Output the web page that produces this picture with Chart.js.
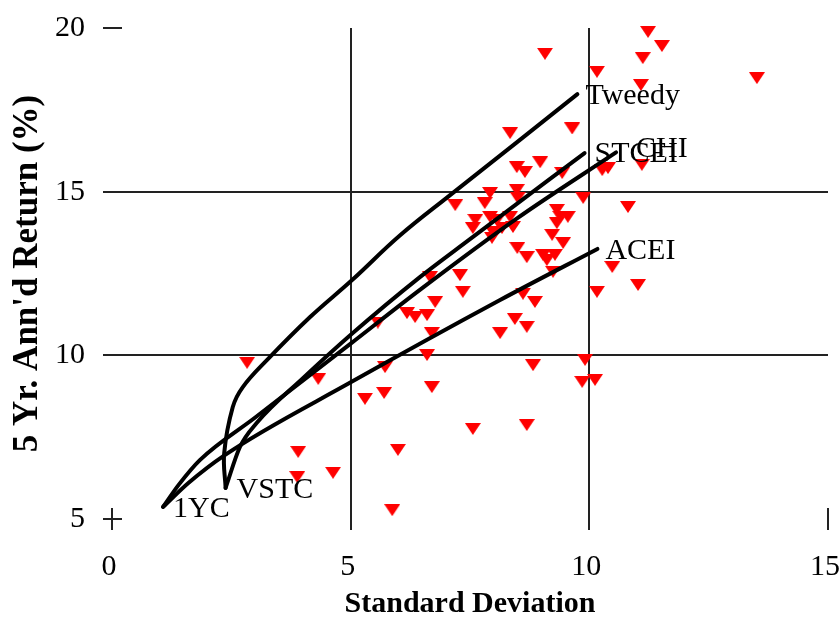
<!DOCTYPE html>
<html>
<head>
<meta charset="utf-8">
<script src="https://cdn.jsdelivr.net/npm/chart.js@4.4.1/dist/chart.umd.min.js"></script>
<style>
html,body{margin:0;padding:0;background:#fff}
canvas{display:block}
</style>
</head>
<body>
<canvas id="riskChart" width="840" height="618"></canvas>
<script>
// ===== data =====
const xTicks=[0,5,10,15];
const yTicks=[5,10,15,20];

// individual funds: std deviation / 5 yr annualised return
const fundSD=[9.07,10.16,11.23,11.52,11.12,11.08,13.51,9.64,8.34,10.27,10.39,11.10,9.87,10.81,10.48,11.02,10.16,
  8.48,8.65,8.97,9.43,7.92,8.48,8.50,7.81,7.19,7.61,7.92,8.07,8.34,8.40,7.56,8.17,9.32,9.39,9.55,9.32,9.22,9.45,
  8.49,8.69,9.03,9.28,9.11,7.96,9.24,7.29,6.66,7.35,6.77,8.61,8.86,6.60,8.44,8.69,8.13,6.70,6.60,8.82,9.91,6.70,
  9.85,10.12,7.56,8.69,2.83,4.32,3.90,3.88,4.63,5.30,5.70,5.72,5.57,5.99,5.87,6.18,6.35,7.98];
const fundRet=[19.21,18.66,19.88,19.45,19.08,18.26,18.47,16.93,16.79,15.66,15.72,15.82,14.81,14.53,12.70,12.15,11.94,
  15.75,15.60,15.90,15.57,14.96,15.05,14.81,14.65,14.59,14.14,14.23,14.14,14.23,13.92,13.89,13.89,14.44,14.23,14.23,14.04,13.68,13.43,
  13.28,13.00,13.07,13.07,12.91,13.59,12.55,12.45,12.39,11.94,11.63,11.88,11.63,11.23,11.11,10.87,10.68,10.68,10.01,9.70,9.86,9.03,
  9.19,9.25,7.75,7.87,9.77,9.28,7.05,6.28,6.41,8.67,8.85,9.64,11.00,7.11,5.27,11.29,11.17,13.77];

// mixing curves
const tweedyX=[2.38,2.35,2.53,2.74,3.25,4.15,5.03,6.03,7.07,8.5,9.75];
const tweedyY=[5.95,7.0,8.42,9.03,9.86,11.17,12.30,13.66,14.88,16.53,17.98];
const stceiX=[2.38,2.68,3.03,4.0,5.02,6.45,7.5,9.9];
const stceiY=[5.95,7.2,7.93,9.3,10.65,12.39,13.55,16.18];
const chiX=[1.07,1.4,1.84,3.0,5.02,6.45,8.5,10.56];
const chiY=[5.37,6.05,6.8,8.1,10.38,12.0,14.2,16.2];
const aceiX=[1.07,1.6,2.37,5.02,8.13,10.17];
const aceiY=[5.37,6.1,6.96,9.19,11.69,13.25];

const curveNames=['Tweedy','STCEI','CHI','ACEI'];
const curveXs=[tweedyX,stceiX,chiX,aceiX];
const curveYs=[tweedyY,stceiY,chiY,aceiY];

// text labels placed next to a curve end: [text, curve index, 'first'|'last', dx, dy]
const curveLabels=[
  ['Tweedy',0,'last',8,10],
  ['STCEI',1,'last',10,9],
  ['CHI',2,'last',20,5],
  ['ACEI',3,'last',8,10],
  ['1YC',2,'first',10,10],
  ['VSTC',0,'first',11,10]
];

const SERIF='"Liberation Serif","Times New Roman",serif';
const INK='#222';

// red downward triangle marker
const tri=document.createElement('canvas');
tri.width=16;tri.height=12;
{
  const t=tri.getContext('2d');
  t.fillStyle='#ff0000';
  t.beginPath();t.moveTo(0,0);t.lineTo(16,0);t.lineTo(8,12);t.closePath();t.fill();
}

const pairs=(xs,ys)=>xs.map((x,i)=>({x,y:ys[i]}));

// tick marks that cross the axis at the edge values (no gridline there)
const crossTicks={
  id:'crossTicks',
  afterDraw(chart){
    const {ctx,chartArea:a,scales:{x,y}}=chart;
    ctx.save();
    ctx.strokeStyle=INK;ctx.lineWidth=2;
    ctx.beginPath();
    [yTicks[0],yTicks[yTicks.length-1]].forEach(v=>{
      const py=Math.round(y.getPixelForValue(v));
      ctx.moveTo(a.left,py);ctx.lineTo(a.left+10,py);
    });
    [xTicks[0],xTicks[xTicks.length-1]].forEach(v=>{
      const px=Math.round(x.getPixelForValue(v));
      ctx.moveTo(px,a.bottom-11);ctx.lineTo(px,a.bottom);
    });
    ctx.stroke();
    ctx.restore();
  }
};

const curveText={
  id:'curveText',
  afterDatasetsDraw(chart){
    const {ctx,scales:{x,y}}=chart;
    ctx.save();
    ctx.fillStyle='#000';
    ctx.font='30px '+SERIF;
    ctx.textAlign='left';
    ctx.textBaseline='alphabetic';
    curveLabels.forEach(([txt,ci,end,dx,dy])=>{
      const xs=curveXs[ci],ys=curveYs[ci];
      const i=end==='first'?0:xs.length-1;
      ctx.fillText(txt,x.getPixelForValue(xs[i])+dx,y.getPixelForValue(ys[i])+dy);
    });
    ctx.restore();
  }
};

const edgeOnly=(ticks)=>c=>{
  const v=c.tick&&c.tick.value;
  return (v===ticks[0]||v===ticks[ticks.length-1])?'rgba(0,0,0,0)':INK;
};

// Tweedy doubles back at its foot, so it keeps bezier tension; the rest are monotone in x
const lineSets=curveNames.map((n,i)=>({
  type:'line',
  label:n,
  data:pairs(curveXs[i],curveYs[i]),
  borderColor:'#000',
  borderWidth:4,
  borderCapStyle:'round',
  borderJoinStyle:'round',
  tension:0.4,
  cubicInterpolationMode:i===0?'default':'monotone',
  pointRadius:0,
  fill:false,
  clip:false,
  order:0
}));

new Chart(document.getElementById('riskChart'),{
  type:'scatter',
  plugins:[crossTicks,curveText],
  data:{
    datasets:[
      ...lineSets,
      {
        label:'Funds',
        data:pairs(fundSD,fundRet),
        pointStyle:tri,
        pointRadius:6,
        clip:false,
        order:1
      }
    ]
  },
  options:{
    responsive:false,
    animation:false,
    layout:{padding:{left:0,right:12,top:28,bottom:0}},
    plugins:{legend:{display:false},tooltip:{enabled:false}},
    scales:{
      x:{
        type:'linear',min:0,max:15,
        afterBuildTicks:s=>{s.ticks=xTicks.map(v=>({value:v}));},
        afterFit:s=>{s.height=99;s.paddingLeft=0;s.paddingRight=0;s.paddingTop=0;s.paddingBottom=0;},
        border:{display:false},
        grid:{color:edgeOnly(xTicks),tickColor:INK,lineWidth:2,tickLength:11,drawTicks:true},
        ticks:{color:'#000',padding:19,labelOffset:-3,maxRotation:0,font:{family:SERIF,size:30}},
        title:{display:true,text:'Standard Deviation',color:'#000',
          font:{family:SERIF,size:30,weight:'bold',lineHeight:0.9},padding:{top:0,bottom:0}}
      },
      y:{
        type:'linear',min:5,max:20,
        afterBuildTicks:s=>{s.ticks=yTicks.map(v=>({value:v}));},
        afterFit:s=>{s.width=112;s.paddingLeft=0;s.paddingRight=0;s.paddingTop=0;s.paddingBottom=0;},
        border:{display:false},
        grid:{color:edgeOnly(yTicks),tickColor:INK,lineWidth:2,tickLength:9,drawTicks:true},
        ticks:{color:'#000',padding:18,font:{family:SERIF,size:30}},
        title:{display:true,text:"5 Yr. Ann'd Return (%)",color:'#000',
          font:{family:SERIF,size:35,weight:'bold',lineHeight:1},padding:{top:10,bottom:0}}
      }
    }
  }
});
</script>
</body>
</html>
